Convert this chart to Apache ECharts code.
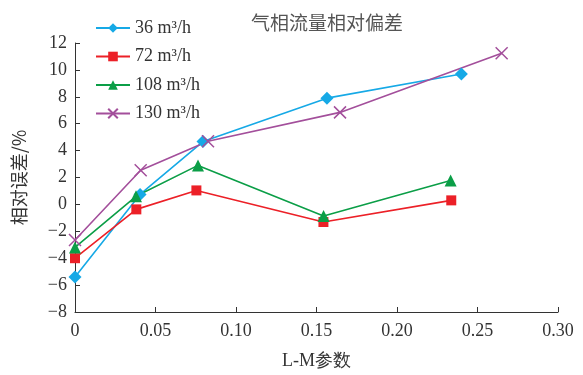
<!DOCTYPE html>
<html>
<head>
<meta charset="utf-8">
<script src="https://cdn.jsdelivr.net/npm/echarts@6/dist/echarts.min.js"></script>
<style>
  html, body { margin: 0; padding: 0; background: #fff; }
  #chart { width: 583px; height: 375px; }
</style>
</head>
<body>
<div id="chart"></div>
<script>
// L-M参数 (x) 和 相对误差/% (y)
var names = ['36 m³/h', '72 m³/h', '108 m³/h', '130 m³/h'];
var x36 = [0, 0.0404, 0.0795, 0.1565, 0.240];
var y36 = [-5.4, 0.74, 4.67, 7.9, 9.7];
var x72 = [0, 0.0381, 0.0754, 0.1543, 0.2337];
var y72 = [-4.0, -0.37, 1.04, -1.31, 0.3];
var x108 = [0, 0.0379, 0.0764, 0.1544, 0.2333];
var y108 = [-3.2, 0.6, 2.9, -0.87, 1.78];
var x130 = [0, 0.0408, 0.0826, 0.1646, 0.265];
var y130 = [-2.65, 2.54, 4.7, 6.84, 11.24];
var colors = ['#16a9e6', '#ec2027', '#0b9e47', '#a34f9b'];

function pairs(xs, ys) {
  return xs.map(function (v, i) { return [v, ys[i]]; });
}

var serif = 'Liberation Serif, Times New Roman, serif';
var cjk = 'Noto Sans CJK SC';

var myChart = echarts.init(document.getElementById('chart'));
var option = {
  animation: false,
  title: {
    text: '气相流量相对偏差',
    left: 322,
    textAlign: 'center',
    top: 8,
    textStyle: { color: '#555', fontSize: 19, fontWeight: 'normal', fontFamily: cjk }
  },
  legend: {
    orient: 'vertical',
    left: 90,
    top: 13,
    itemWidth: 34,
    itemHeight: 12,
    itemGap: 8.5,
    data: names,
    textStyle: { color: '#333', fontSize: 18, fontFamily: serif, lineHeight: 20 }
  },
  grid: { left: 75, right: 25, top: 43, bottom: 62 },
  xAxis: {
    type: 'value',
    min: 0, max: 0.3, interval: 0.05,
    name: 'L-M参数',
    nameLocation: 'middle',
    nameGap: 40,
    nameTextStyle: { color: '#333', fontSize: 18, fontFamily: serif },
    axisLine: { onZero: false, lineStyle: { color: '#333' } },
    axisTick: { inside: true, length: 5, lineStyle: { color: '#333' } },
    splitLine: { show: false },
    axisLabel: {
      color: '#333', fontSize: 18, fontFamily: serif, margin: 10,
      formatter: function (v) { return v === 0 ? '0' : v.toFixed(2); }
    }
  },
  yAxis: {
    type: 'value',
    min: -8, max: 12, interval: 2,
    name: '相对误差/%',
    nameLocation: 'middle',
    nameGap: 47,
    nameTextStyle: { color: '#333', fontSize: 18, fontFamily: cjk },
    axisLine: { show: true, lineStyle: { color: '#333' } },
    axisTick: { show: true, inside: true, length: 5, lineStyle: { color: '#333' } },
    splitLine: { show: false },
    axisLabel: {
      color: '#333', fontSize: 18, fontFamily: serif, margin: 8,
      formatter: function (v) { return v < 0 ? '\u2212' + Math.abs(v) : String(v); }
    }
  },
  series: [
    {
      name: names[0], type: 'line', data: pairs(x36, y36),
      symbol: 'diamond', symbolSize: 13,
      itemStyle: { color: colors[0] },
      lineStyle: { color: colors[0], width: 1.6 }
    },
    {
      name: names[1], type: 'line', data: pairs(x72, y72),
      symbol: 'rect', symbolSize: 10,
      itemStyle: { color: colors[1] },
      lineStyle: { color: colors[1], width: 1.6 }
    },
    {
      name: names[2], type: 'line', data: pairs(x108, y108),
      symbol: 'triangle', symbolSize: 12,
      itemStyle: { color: colors[2] },
      lineStyle: { color: colors[2], width: 1.6 }
    },
    {
      name: names[3], type: 'line', data: pairs(x130, y130),
      symbol: 'path://M0,0L10,10M10,0L0,10', symbolSize: 12,
      itemStyle: { color: colors[3], borderColor: colors[3], borderWidth: 1.5 },
      lineStyle: { color: colors[3], width: 1.6 }
    }
  ]
};
myChart.setOption(option);
</script>
</body>
</html>
